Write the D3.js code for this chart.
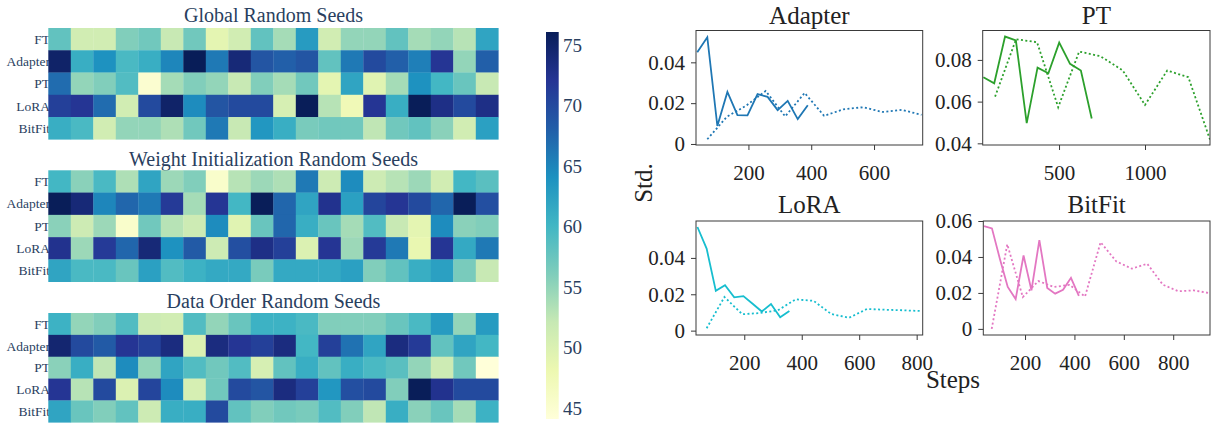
<!DOCTYPE html>
<html><head><meta charset="utf-8">
<script src="https://cdn.jsdelivr.net/npm/d3@7"></script>
<style>body{margin:0;background:#fff} svg{display:block}</style>
</head><body>
<svg id="chart" width="1217" height="423"></svg>
<script>
// ---------- heatmap data ----------
const methods = ["FT","Adapter","PT","LoRA","BitFit"];
const seedIndex = d3.range(20);
const globalSeeds = [
  [58,51,51,56,57,52,57,49,51,58,54,63,51,55,55,58,54,55,53,62],
  [75,61,64,59.5,61,65,76.1,66,74,69,68,69,58,66,70,68,65.5,72,55,68],
  [67,55,56,59,45,54,56,55,52,56,54,57,49,62,49.5,54,64,60,57.5,52],
  [71,72,67,51,70,75,64.5,69,70,70,50.5,76,53,47.5,72,61,76,73,70,73],
  [61,59.5,51,55,55,53.5,57,66,52,63.5,61,56.5,57,57,52.5,57,58,55.5,51,62.5]
];
const weightInitSeeds = [
  [60,55.5,59.5,53.5,62,54.5,56,45.5,53,54.5,53.5,66,51.5,64.5,51.5,53,54.5,51,60,58.5],
  [76,74,65,67.5,66,71.5,54,72,60,76,67.5,62,72.5,62.5,70.5,72,70,67.5,76,69.5],
  [55.5,51.5,54.5,45.5,57,53,51.5,64.5,49.5,57.5,67.5,61,57.5,54,59,52,49,64.5,55.5,56],
  [72.5,54.5,71.5,67.5,74,64,68.5,51.5,69.5,73,71,50,72,54.5,71.5,66,48.5,72,61.5,66],
  [62,59.5,59.5,57.5,62.5,59,60.5,61.5,61.5,56.5,61.5,61.5,61.5,62.5,56,58,61,62.5,56.5,52]
];
const dataOrderSeeds = [
  [60.5,55,56,59,51.5,51,59,55,57.5,60.5,60.5,59.5,56,56,56,57.5,59.5,63,55,63],
  [74.5,70,68.5,72,71,73.5,50,73.5,72,71,73.5,60,71,66.5,62,73.5,71.5,58,62,60],
  [55.5,61,52.5,64.5,55,62,59,57,59,50.5,58,61,58,61,59.5,58.5,55,51.5,57,44.1],
  [72,53,70,50,70.5,64.5,50.5,57,70,69,73.5,71,63.5,69.5,70,56,76,72.5,70,70],
  [62,57.5,56,58,51.5,61,61,70,58,56,57,56.5,59,56,52.5,61,55.5,57.5,54,60.5]
];
const heatTitles = ["Global Random Seeds","Weight Initialization Random Seeds","Data Order Random Seeds"];
const colorbarTicks = [45,50,55,60,65,70,75];
const ylgnbu = ["rgb(255,255,217)","rgb(237,248,177)","rgb(199,233,180)","rgb(127,205,187)","rgb(65,182,196)","rgb(29,145,192)","rgb(34,94,168)","rgb(37,52,148)","rgb(8,29,88)"];

// ---------- line data ----------
const adapterSolidSteps = [37,69,101,133,165,197,229,261,293,325,357,389];
const adapterSolidStd   = [0.045,0.0523,0.0088,0.0255,0.0141,0.014,0.0244,0.0231,0.0166,0.0211,0.0122,0.019];
const adapterDottedSteps = [69,131,193,255,317,379,441,503,565,627,689,751];
const adapterDottedStd   = [0.0023,0.0133,0.0188,0.026,0.0135,0.025,0.0138,0.017,0.018,0.0157,0.0167,0.0143];
const ptSolidSteps = [60,123,186,249,312,375,438,501,564,627,690];
const ptSolidStd   = [0.0717,0.0688,0.0912,0.0893,0.0497,0.0763,0.0736,0.0883,0.0781,0.0749,0.0519];
const ptDottedSteps = [128,250,372,495,617,740,870,1000,1129,1252,1378];
const ptDottedStd   = [0.0624,0.0899,0.0885,0.0573,0.084,0.0818,0.075,0.0584,0.0749,0.0717,0.0418];
const loraSolidSteps = [37,69,101,133,165,197,229,261,293,325,357];
const loraSolidStd   = [0.057,0.0451,0.0219,0.025,0.0183,0.019,0.0148,0.0105,0.0146,0.0073,0.0108];
const loraDottedSteps = [69,131,193,255,317,379,441,503,565,627,689,751,813];
const loraDottedStd   = [0.0013,0.0185,0.009,0.0097,0.0112,0.0172,0.0164,0.0091,0.0071,0.0119,0.0115,0.0112,0.0108];
const bitfitSolidSteps = [34,66,98,130,162,194,226,258,290,322,354,386,418];
const bitfitSolidStd   = [0.0572,0.0559,0.039,0.0233,0.0166,0.0408,0.0214,0.0494,0.0228,0.0196,0.0218,0.0284,0.0184];
const bitfitDottedSteps = [65,128,191,254,317,380,443,506,569,632,695,758,821,884,947];
const bitfitDottedStd   = [0,0.047,0.0177,0.0266,0.0233,0.0245,0.018,0.0482,0.0376,0.0335,0.0362,0.0246,0.0209,0.0214,0.0199];

const svg = d3.select("#chart");
const heatFont = "'Liberation Serif','Times New Roman',serif";
const heatText = "#2a3f5f";

// ---------- heatmaps ----------
const allVals = [globalSeeds, weightInitSeeds, dataOrderSeeds].flat(2);
const zExt = d3.extent(allVals);
const color = d3.scaleLinear()
  .domain(d3.range(9).map(i => zExt[0] + (zExt[1]-zExt[0]) * i / 8))
  .range(ylgnbu).interpolate(d3.interpolateRgb);

const heatX = d3.scaleBand().domain(seedIndex).range([48.3, 498.3]);
const heatPanels = [
  {data: globalSeeds, title: heatTitles[0], y0: 28, y1: 139.3, ty: 22},
  {data: weightInitSeeds, title: heatTitles[1], y0: 170.3, y1: 281.7, ty: 165.5},
  {data: dataOrderSeeds, title: heatTitles[2], y0: 313, y1: 422.3, ty: 307.7}
];
heatPanels.forEach(p => {
  const g = svg.append("g");
  const yb = d3.scaleBand().domain(methods).range([p.y0, p.y1]);
  g.append("text").attr("x", 273.5).attr("y", p.ty).attr("text-anchor","middle")
    .attr("font-family", heatFont).attr("font-size", 20).attr("fill", heatText).text(p.title);
  g.selectAll("text.row").data(methods).join("text").attr("class","row")
    .attr("x", 50).attr("y", d => yb(d) + yb.bandwidth()/2)
    .attr("dy","0.35em").attr("text-anchor","end")
    .attr("font-family", heatFont).attr("font-size", 13.5).attr("fill", heatText).text(d => d);
  const cells = [];
  p.data.forEach((row, ri) => row.forEach((v, ci) => cells.push({m: methods[ri], c: ci, v})));
  g.selectAll("rect").data(cells).join("rect")
    .attr("x", d => heatX(d.c)).attr("y", d => yb(d.m))
    .attr("width", heatX.bandwidth() + 0.3).attr("height", yb.bandwidth() + 0.3)
    .attr("fill", d => color(d.v));
});

// colorbar
const cbY = d3.scaleLinear().domain(zExt).range([419, 32]);
const defs = svg.append("defs");
const grad = defs.append("linearGradient").attr("id","cbgrad").attr("x1",0).attr("y1",1).attr("x2",0).attr("y2",0);
ylgnbu.forEach((c, i) => grad.append("stop").attr("offset", i/8).attr("stop-color", c));
svg.append("rect").attr("x", 546).attr("y", cbY(zExt[1])).attr("width", 12.7)
  .attr("height", cbY(zExt[0]) - cbY(zExt[1])).attr("fill","url(#cbgrad)");
svg.append("g").selectAll("text").data(colorbarTicks).join("text")
  .attr("x", 563).attr("y", d => cbY(d)).attr("dy","0.35em")
  .attr("font-family", heatFont).attr("font-size", 19).attr("fill", heatText).text(d => d);

// ---------- line panels ----------
const lineFont = "'Liberation Serif','Times New Roman',serif";
const fmt = d => d === 0 ? "0" : d3.format(".2f")(d);
const linePanels = [
  {title:"Adapter", color:"#1f77b4", solid:[adapterSolidSteps, adapterSolidStd], dotted:[adapterDottedSteps, adapterDottedStd],
   xd:[33,755], yd:[-0.0005,0.0556], x0:696, x1:922.7, y0:30.5, y1:145, xt:[200,400,600], yt:[0,0.02,0.04], ty:24},
  {title:"PT", color:"#2ca02c", solid:[ptSolidSteps, ptSolidStd], dotted:[ptDottedSteps, ptDottedStd],
   xd:[56,1378], yd:[0.0392,0.0941], x0:982.7, x1:1210, y0:30.5, y1:145, xt:[500,1000], yt:[0.04,0.06,0.08], ty:24},
  {title:"LoRA", color:"#17becf", solid:[loraSolidSteps, loraSolidStd], dotted:[loraDottedSteps, loraDottedStd],
   xd:[32,821], yd:[-0.0024,0.0603], x0:696, x1:922.7, y0:221, y1:335, xt:[200,400,600,800], yt:[0,0.02,0.04], ty:213},
  {title:"BitFit", color:"#e377c2", solid:[bitfitSolidSteps, bitfitSolidStd], dotted:[bitfitDottedSteps, bitfitDottedStd],
   xd:[31,949], yd:[-0.0034,0.06], x0:983.3, x1:1210, y0:221, y1:335, xt:[200,400,600,800], yt:[0,0.02,0.04,0.06], ty:213}
];
linePanels.forEach((p, i) => {
  const g = svg.append("g");
  const x = d3.scaleLinear().domain(p.xd).range([p.x0, p.x1]);
  const y = d3.scaleLinear().domain(p.yd).range([p.y1, p.y0]);
  const cid = "clip" + i;
  defs.append("clipPath").attr("id", cid).append("rect")
    .attr("x", p.x0).attr("y", p.y0).attr("width", p.x1 - p.x0).attr("height", p.y1 - p.y0);
  const line = d3.line().x(d => x(d[0])).y(d => y(d[1]));
  const lines = g.append("g").attr("clip-path", `url(#${cid})`);
  lines.append("path").datum(d3.zip(p.dotted[0], p.dotted[1])).attr("d", line)
    .attr("fill","none").attr("stroke", p.color).attr("stroke-width", 1.8).attr("stroke-dasharray","2,2.4");
  lines.append("path").datum(d3.zip(p.solid[0], p.solid[1])).attr("d", line)
    .attr("fill","none").attr("stroke", p.color).attr("stroke-width", 1.8);
  g.append("rect").attr("x", p.x0).attr("y", p.y0).attr("width", p.x1 - p.x0).attr("height", p.y1 - p.y0)
    .attr("fill","none").attr("stroke","#3a3a3a").attr("stroke-width", 1);
  const xa = g.append("g").attr("transform", `translate(0,${p.y1})`)
    .call(d3.axisBottom(x).tickValues(p.xt).tickSize(5).tickPadding(15).tickFormat(d3.format("d")));
  const ya = g.append("g").attr("transform", `translate(${p.x0},0)`)
    .call(d3.axisLeft(y).tickValues(p.yt).tickSize(5).tickPadding(6).tickFormat(fmt));
  [xa, ya].forEach(a => {
    a.select(".domain").remove();
    a.selectAll("line").attr("stroke","#3a3a3a");
    a.selectAll("text").attr("font-family", lineFont).attr("font-size", 21).attr("fill","#222");
  });
  g.append("text").attr("x", (p.x0 + p.x1)/2).attr("y", p.ty).attr("text-anchor","middle")
    .attr("font-family", lineFont).attr("font-size", 25).attr("fill","#222").text(p.title);
});
svg.append("text").attr("transform","translate(652,183) rotate(-90)").attr("text-anchor","middle")
  .attr("font-family", lineFont).attr("font-size", 25).attr("fill","#222").text("Std.");
svg.append("text").attr("x", 953).attr("y", 388).attr("text-anchor","middle")
  .attr("font-family", lineFont).attr("font-size", 25).attr("fill","#222").text("Steps");
</script>
</body></html>
